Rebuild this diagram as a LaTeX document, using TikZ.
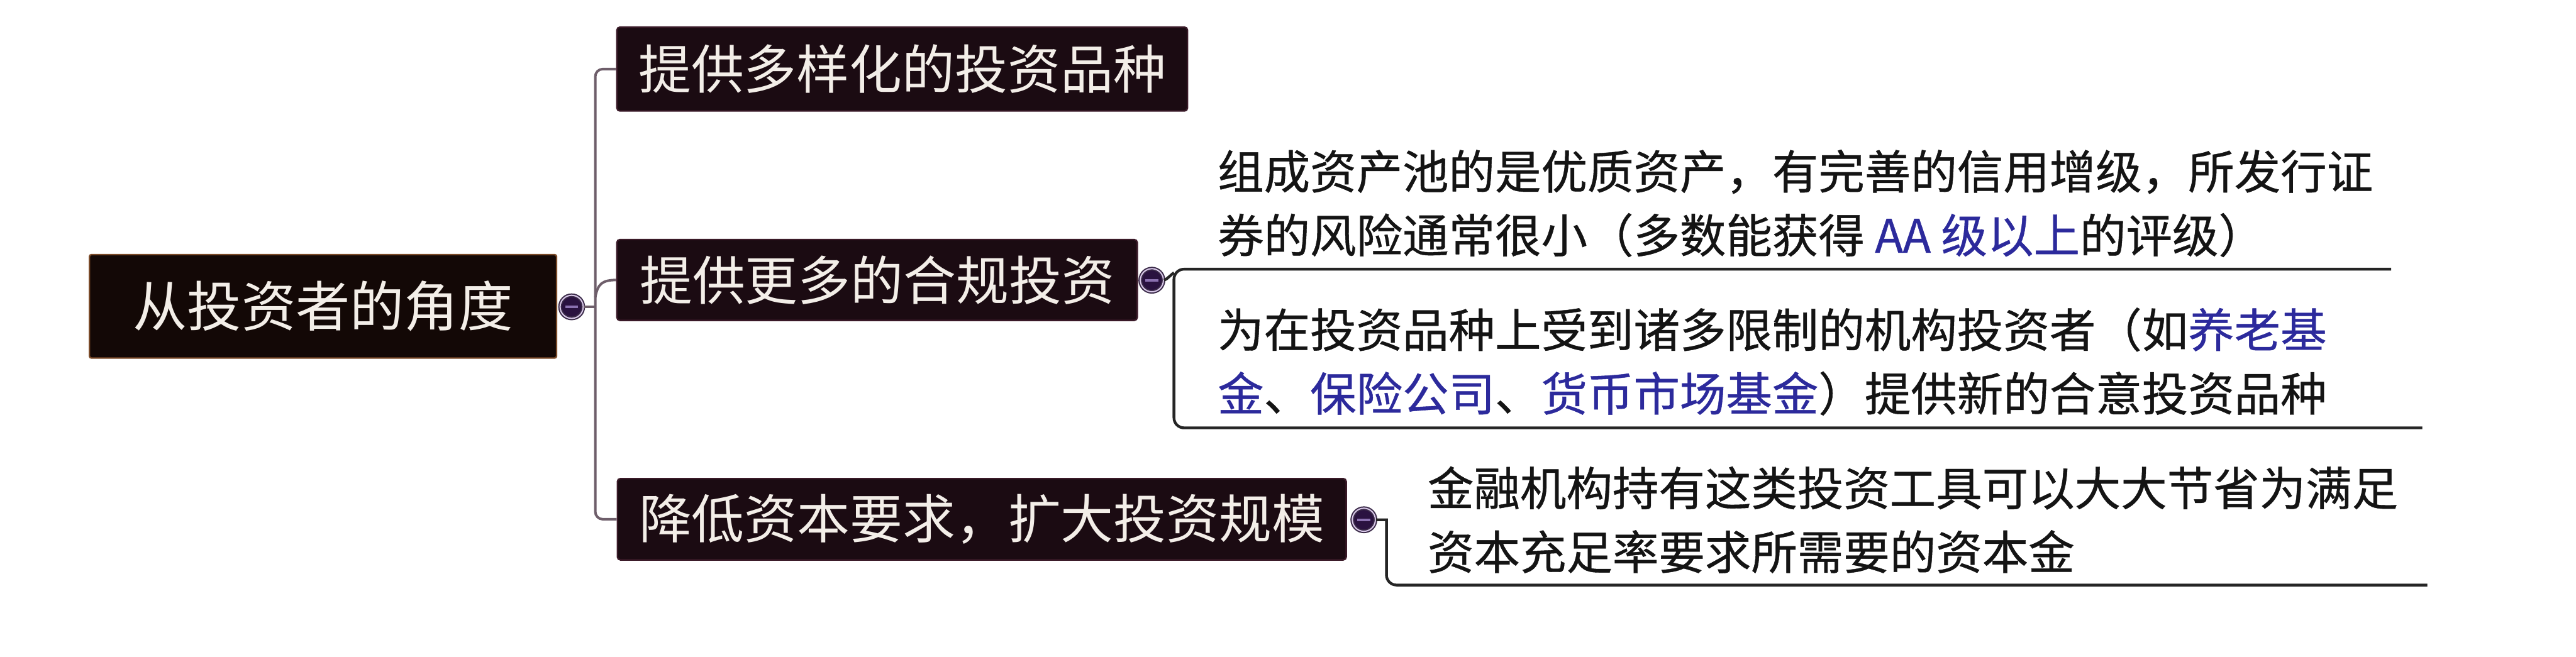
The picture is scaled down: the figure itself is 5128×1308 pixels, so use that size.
\documentclass[tikz,border=0pt]{standalone}
\usepackage{fontspec}
\newfontfamily\cjk{Noto Sans CJK SC}
\newfontfamily\cjkm[FakeBold=0.6]{Noto Sans CJK SC}
\definecolor{boxfill}{HTML}{1B0B12}
\definecolor{boxedge}{HTML}{3A1A28}
\definecolor{rootfill}{HTML}{130806}
\definecolor{rootedge}{HTML}{7A4A28}
\definecolor{boxtext}{HTML}{F3EEE8}
\definecolor{trunkcol}{HTML}{6E5E6A}
\definecolor{leafcol}{HTML}{252525}
\definecolor{leaftext}{HTML}{141414}
\definecolor{hl}{HTML}{2C2A9C}
\definecolor{knobfill}{HTML}{2A1240}
\definecolor{knobedge}{HTML}{3A2A48}
\definecolor{knobring}{HTML}{D8C8E8}
\definecolor{knobbar}{HTML}{8A70B0}
\begin{document}
\begin{tikzpicture}[x=0.1pt,y=-0.1pt,
  rootbox/.style={fill=rootfill, draw=rootedge, line width=0.3pt, rounded corners=0.4pt,
    text=boxtext, font=\cjk\fontsize{10.8pt}{13pt}\selectfont, inner sep=0pt},
  topbox/.style={fill=boxfill, draw=boxedge, line width=0.3pt, rounded corners=0.6pt,
    text=boxtext, font=\cjk\fontsize{10.5pt}{12.5pt}\selectfont, inner sep=0pt},
  knob/.style={circle, fill=knobfill, draw=knobedge, double=knobring, double distance=0.25pt,
    line width=0.25pt, minimum size=4.6pt, inner sep=0pt,
    path picture={\draw[knobbar, line width=0.45pt]
      ([xshift=-1.3pt]path picture bounding box.center) -- ([xshift=1.3pt]path picture bounding box.center);}},
  trunk/.style={draw=trunkcol, line width=0.5pt},
  leafline/.style={draw=leafcol, line width=0.55pt},
  leaf/.style={font=\cjkm\fontsize{9.2pt}{12.7pt}\selectfont, text=leaftext, align=left,
    inner sep=0pt, anchor=west}
]
\useasboundingbox[fill=white] (0,0) rectangle (5128,1308);

% main nodes
\node[rootbox, minimum width=93pt, minimum height=20.6pt] (root) at (643,610) {从投资者的角度};
\node[knob] (k0) at (1138,611) {};
\node[topbox, minimum width=113.6pt, minimum height=16.7pt] (b1) at (1796,137.5) {提供多样化的投资品种};
\node[topbox, minimum width=103.6pt, minimum height=16.1pt] (b2) at (1746,557.5) {提供更多的合规投资};
\node[knob] (k2) at (2293,558) {};
\node[topbox, minimum width=145.1pt, minimum height=16.2pt] (b3) at (1954.5,1034) {降低资本要求，扩大投资规模};
\node[knob] (k3) at (2715,1035) {};

% leaves
\node[leaf] (l1) at (2422,405) {组成资产池的是优质资产，有完善的信用增级，所发行证\\券的风险通常很小（多数能获得 \textcolor{hl}{AA 级以上}的评级）};
\node[leaf] (l2) at (2422,720) {为在投资品种上受到诸多限制的机构投资者（如\textcolor{hl}{养老基}\\\textcolor{hl}{金}、\textcolor{hl}{保险公司}、\textcolor{hl}{货币市场基金}）提供新的合意投资品种};
\node[leaf] (l3) at (2840,1035) {金融机构持有这类投资工具可以大大节省为满足\\资本充足率要求所需要的资本金};

% trunk connectors
\coordinate (t0) at (1185,611);
\draw[trunk, rounded corners=1.5pt] (b1.west) -- (1185,137.5) -- (1185,1034) -- (b3.west);
\draw[trunk] (k0.east) -- (t0);
\draw[trunk] (1185,592) .. controls (1190,564) and (1200,558) .. (b2.west);

% leaf connectors / underlines
\coordinate (j2) at (2337,536);
\coordinate (u1) at (4760,536);
\coordinate (u2) at (4822,852);
\coordinate (u3) at (4832,1165);
\draw[leafline, rounded corners=2pt] (u2) -- (2337,852) -- (j2) -- (u1);
\draw[leafline] (k2.east) .. controls (2322,557) and (2330,548) .. (2337,543);
\draw[leafline] (k3.east) -- (2760,1035) [rounded corners=2pt] -- (2760,1165) -- (u3);
\end{tikzpicture}
\end{document}
